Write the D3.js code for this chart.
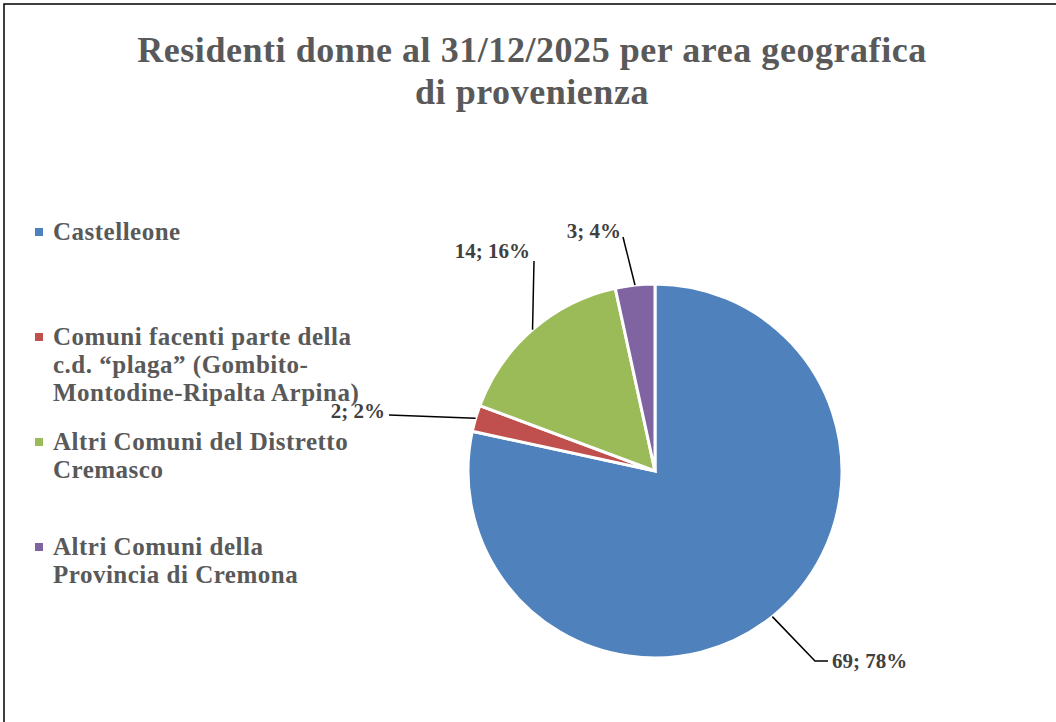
<!DOCTYPE html>
<html>
<head>
<meta charset="utf-8">
<script src="https://cdn.jsdelivr.net/npm/d3@7"></script>
<style>
  body { margin: 0; background: #fff; }
  svg { display: block; }
  text { font-family: "Liberation Serif", "DejaVu Serif", serif; font-weight: bold; }
</style>
</head>
<body>
<div id="chart"></div>
<script>
// data
const categories = [
  "Castelleone",
  "Comuni facenti parte della c.d. “plaga” (Gombito-Montodine-Ripalta Arpina)",
  "Altri Comuni del Distretto Cremasco",
  "Altri Comuni della Provincia di Cremona"
];
const legendLines = [
  ["Castelleone"],
  ["Comuni facenti parte della", "c.d. “plaga” (Gombito-", "Montodine-Ripalta Arpina)"],
  ["Altri Comuni del Distretto", "Cremasco"],
  ["Altri Comuni della", "Provincia di Cremona"]
];
const values = [69, 2, 14, 3];
const percentLabels = ["78%", "2%", "16%", "4%"];
const colors = ["#4f81bd", "#c0504d", "#9bbb59", "#8064a2"];

const W = 1056, H = 722;
const cx = 655, cy = 471, R = 187;

const svg = d3.select("#chart").append("svg")
  .attr("width", W).attr("height", H);

// frame (only top and left edges are visible in the picture)
svg.append("rect")
  .attr("x", 4).attr("y", 4)
  .attr("width", W + 20).attr("height", H + 20)
  .attr("fill", "none").attr("stroke", "#000").attr("stroke-width", 1.5);

// title
const title = svg.append("text")
  .attr("text-anchor", "middle")
  .attr("fill", "#595959")
  .style("font-size", "36px")
  .style("letter-spacing", "0.55px");
title.append("tspan").attr("x", 532).attr("y", 62)
  .text("Residenti donne al 31/12/2025 per area geografica");
title.append("tspan").attr("x", 532).attr("y", 104)
  .text("di provenienza");

// pie
const pie = d3.pie().sort(null).value(d => d);
const arcs = pie(values);
const arc = d3.arc().innerRadius(0).outerRadius(R);

const g = svg.append("g").attr("transform", `translate(${cx},${cy})`);
g.selectAll("path.slice")
  .data(arcs)
  .enter().append("path")
  .attr("class", "slice")
  .attr("d", arc)
  .attr("fill", (d, i) => colors[i])
  .attr("stroke", "#fff")
  .attr("stroke-width", 3)
  .attr("stroke-linejoin", "miter");

// data labels with leader lines
// line end (relative to center), optional elbow, text placement
const labelLayout = [
  { elbow: [160, 190], end: [173, 190], anchor: "start", tdx: 4, tdy: 7 },
  { end: [-266, -56], anchor: "end", tdx: -4, tdy: 3 },
  { end: [-121, -210], anchor: "end", tdx: -4, tdy: -3 },
  { end: [-32, -234], anchor: "end", tdx: -2, tdy: 1 }
];

const edge = d3.arc().innerRadius(R).outerRadius(R);
arcs.forEach((d, i) => {
  const L = labelLayout[i];
  const p0 = edge.centroid(d);
  const pts = [p0];
  if (L.elbow) pts.push(L.elbow);
  pts.push(L.end);
  g.append("path")
    .attr("d", d3.line()(pts))
    .attr("fill", "none")
    .attr("stroke", "#000")
    .attr("stroke-width", 1.5);
  g.append("text")
    .attr("x", L.end[0] + L.tdx)
    .attr("y", L.end[1] + L.tdy)
    .attr("text-anchor", L.anchor)
    .attr("fill", "#404040")
    .style("font-size", "21px")
    .text(values[i] + "; " + percentLabels[i]);
});

// legend
const legendTop = [240, 345, 450, 555];
const lineH = 28;
const legend = svg.append("g");
legendLines.forEach((lines, i) => {
  legend.append("rect")
    .attr("x", 35).attr("y", legendTop[i] - 12)
    .attr("width", 8).attr("height", 8)
    .attr("fill", colors[i]);
  const t = legend.append("text")
    .attr("fill", "#595959")
    .style("font-size", "25px")
    .style("letter-spacing", "0.5px");
  lines.forEach((s, j) => {
    t.append("tspan").attr("x", 53).attr("y", legendTop[i] + j * lineH).text(s);
  });
});
</script>
</body>
</html>
